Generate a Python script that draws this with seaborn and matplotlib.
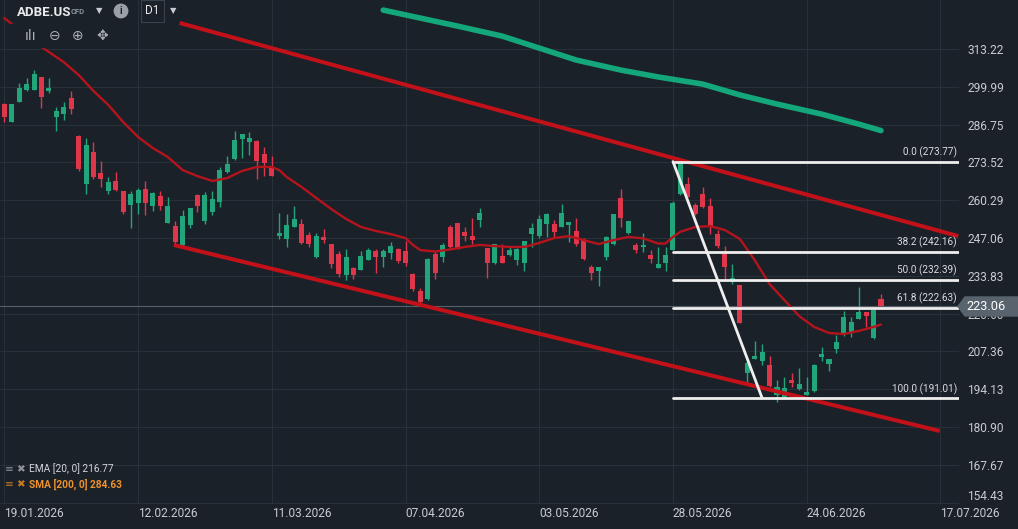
import numpy as np
import pandas as pd
import seaborn as sns
import matplotlib.pyplot as plt
from matplotlib.patches import Polygon, Rectangle

# daily candles ADBE.US (bar 0 = 19.01.2026)
opens = [293.9, 287.7, 294.7, 298.8, 298.9, 303.3, 298.4, 289.5, 290.4, 295.9,
         282.7, 265.9, 277.1, 269.9, 263.5, 267.1, 263.5, 258.6, 259.4, 264.2,
         258.3, 261.7, 252.4, 251.2, 244.6, 251.7, 262.1, 253.1, 256.0, 259.5,
         270.2, 274.6, 281.6, 280.7, 281.1, 276.3, 272.0, 247.7, 246.6, 251.0,
         251.9, 248.1, 240.5, 247.4, 244.9, 241.4, 234.1, 236.5, 235.8, 239.3,
         242.6, 240.5, 241.7, 243.2, 242.5, 234.4, 228.5, 225.6, 241.3, 240.3,
         250.8, 252.2, 249.1, 247.7, 253.3, 243.4, 238.2, 240.7, 241.2, 239.3,
         238.2, 248.4, 247.8, 251.9, 251.9, 251.0, 251.7, 249.5, 246.3, 236.9,
         235.6, 240.3, 244.9, 260.9, 248.9, 244.6, 243.8, 241.1, 236.6, 238.4,
         242.8, 262.3, 265.9, 258.6, 262.4, 258.2, 248.4, 241.4, 232.3, 230.6,
         199.9, 204.8, 204.0, 202.6, 192.1, 191.5, 197.3, 194.1, 192.1, 193.5,
         205.3, 202.8, 208.2, 213.4, 214.0, 218.6, 221.0, 211.9, 225.7]
highs = [294.3, 294.0, 301.2, 302.9, 305.8, 303.5, 302.9, 293.0, 294.6, 298.5,
         283.0, 281.9, 280.7, 274.1, 268.5, 270.1, 263.6, 263.5, 264.6, 267.0,
         263.0, 263.5, 261.3, 252.9, 256.7, 257.6, 262.3, 263.2, 263.5, 272.0,
         275.8, 284.5, 283.5, 284.2, 281.3, 278.8, 275.7, 255.7, 255.3, 258.2,
         253.6, 249.3, 248.7, 250.1, 245.1, 242.6, 243.1, 237.0, 242.5, 243.4,
         243.3, 243.3, 245.7, 243.4, 246.0, 234.9, 229.4, 239.9, 242.6, 245.4,
         251.6, 252.4, 250.8, 253.9, 257.5, 243.5, 244.9, 244.8, 244.2, 243.4,
         246.0, 252.2, 255.1, 255.9, 253.3, 258.9, 252.7, 253.9, 246.9, 237.6,
         237.0, 247.7, 255.5, 264.2, 253.0, 245.2, 248.7, 242.8, 243.8, 243.8,
         260.0, 273.6, 268.5, 259.2, 265.0, 260.9, 249.8, 244.2, 237.9, 230.7,
         205.3, 211.1, 209.9, 205.7, 197.3, 198.3, 199.7, 201.4, 198.3, 202.8,
         208.8, 204.7, 213.1, 221.6, 219.3, 229.9, 221.2, 221.8, 227.4]
lows = [287.7, 287.5, 294.5, 298.5, 298.8, 292.6, 297.7, 284.6, 288.3, 290.4,
        270.5, 262.4, 267.7, 265.0, 262.4, 263.5, 255.4, 250.6, 255.4, 255.2,
        256.6, 256.8, 252.3, 244.8, 244.3, 250.4, 256.2, 251.8, 255.1, 258.0,
        269.9, 274.4, 275.1, 276.1, 267.6, 268.8, 268.6, 246.8, 243.8, 250.9,
        245.0, 243.8, 240.2, 245.4, 236.4, 233.3, 232.3, 232.8, 235.7, 239.2,
        234.7, 237.0, 239.6, 238.4, 237.2, 228.6, 224.4, 225.3, 232.8, 238.7,
        243.1, 243.2, 246.1, 244.9, 251.0, 233.1, 238.0, 238.3, 240.7, 237.6,
        235.6, 243.8, 246.9, 247.5, 247.5, 250.8, 245.7, 244.3, 239.5, 232.3,
        230.2, 239.3, 244.6, 251.0, 248.3, 241.7, 242.2, 238.2, 236.6, 235.5,
        242.7, 262.2, 261.3, 255.2, 257.6, 248.4, 243.4, 232.3, 230.9, 217.2,
        196.7, 204.8, 202.6, 195.0, 189.5, 190.9, 194.8, 193.8, 192.0, 193.2,
        203.9, 200.6, 206.7, 212.8, 212.3, 218.6, 216.0, 211.7, 222.9]
closes = [289.5, 293.9, 299.4, 300.9, 304.4, 296.5, 299.5, 291.5, 292.9, 292.2,
          271.1, 279.6, 268.3, 267.7, 266.6, 263.8, 256.1, 262.4, 263.8, 259.4,
          262.7, 258.3, 258.1, 245.5, 254.7, 257.4, 258.3, 262.1, 260.6, 270.8,
          272.8, 281.3, 283.4, 282.1, 274.1, 273.2, 268.8, 248.9, 251.6, 253.6,
          245.2, 244.9, 247.7, 246.3, 237.9, 234.4, 240.3, 234.2, 240.7, 242.8,
          240.5, 242.5, 244.2, 239.1, 238.4, 229.1, 224.7, 239.6, 234.9, 244.6,
          243.8, 243.4, 247.8, 246.3, 255.7, 238.2, 244.8, 238.4, 242.8, 243.2,
          245.9, 250.4, 253.6, 255.4, 249.0, 255.8, 252.6, 245.1, 239.6, 234.9,
          236.8, 247.5, 255.4, 253.9, 252.9, 242.8, 244.6, 239.6, 237.9, 241.1,
          259.4, 273.2, 261.5, 255.4, 257.8, 251.0, 244.2, 237.0, 233.1, 217.4,
          203.2, 205.7, 207.1, 195.2, 194.8, 194.4, 196.2, 195.8, 193.0, 202.6,
          206.4, 204.6, 210.5, 219.3, 217.5, 221.0, 219.8, 221.8, 223.06]

# EMA(20) and SMA(200) read at some bars
ema_bar = [0, 5, 8, 10, 12, 14, 16, 18, 20, 22, 24, 26, 28, 30, 32, 34, 36, 37, 38, 40,
           42, 44, 46, 48, 50, 52, 54, 55, 56, 58, 60, 62, 64, 66, 68, 70, 72, 74, 76, 78,
           80, 82, 84, 86, 88, 89, 90, 91, 93, 95, 97, 99, 101, 103, 105, 107, 109, 111,
           113, 115, 117, 118]
ema_val = [324.0, 313.9, 308.6, 304.1, 298.5, 293.6, 287.6, 282.4, 278.5, 275.4,
           270.8, 268.7, 267.0, 268.0, 270.5, 271.9, 271.9, 270.8, 268.4, 264.9,
           261.0, 257.2, 253.7, 250.9, 249.5, 248.4, 247.0, 244.6, 242.8, 242.3,
           243.0, 243.9, 244.6, 244.2, 243.9, 243.9, 245.3, 247.0, 247.7, 246.3,
           244.9, 246.3, 247.4, 246.9, 245.1, 245.1, 247.4, 249.2, 250.9, 251.2,
           249.8, 246.7, 239.3, 230.9, 225.3, 219.7, 215.9, 213.8, 213.4, 214.5,
           215.9, 216.77]
sma_bar = [51, 56, 61, 67, 72, 77, 83, 88, 94, 99, 104, 110, 115, 118]
sma_val = [326.8, 324.0, 321.2, 317.7, 313.5, 309.3, 305.8, 303.4, 300.9, 297.1,
           293.9, 290.4, 286.9, 284.63]

date_labels = ["19.01.2026", "12.02.2026", "11.03.2026", "07.04.2026",
               "03.05.2026", "28.05.2026", "24.06.2026", "17.07.2026"]
bars_per_label = 18
price_ticks = [313.22, 299.99, 286.75, 273.52, 260.29, 247.06, 233.83, 220.60,
               207.36, 194.13, 180.90, 167.67, 154.43]

# drawings
upper_bars = [23.6, 128.4]
upper_prices = [322.3, 247.7]
lower_bars = [22.8, 125.9]
lower_prices = [244.6, 179.5]
fib_bars = [90, 102]
fib_pcts = ["0.0", "38.2", "50.0", "61.8", "100.0"]
fib_prices = [273.77, 242.16, 232.39, 222.63, 191.01]
last_price = 223.06
ema_last = 216.77
sma_last = 284.63

BG = "#1b2129"
GRID = "#283039"
TXT = "#c8ccd1"
UP = "#22a57a"
DOWN = "#e0364b"

sns.set_theme(style="dark", rc={"axes.facecolor": BG, "figure.facecolor": BG})
plt.rcParams["font.family"] = ["Roboto", "DejaVu Sans"]

fig = plt.figure(figsize=(10.18, 5.29), dpi=100)
ax = fig.add_axes([0, 25 / 529, 959 / 1018, 504 / 529])
ax.set_facecolor(BG)

x_min, x_max = -0.58, 128.5
y_min, y_max = 153.93, 330.33

df = pd.DataFrame({"o": opens, "h": highs, "l": lows, "c": closes})
df["bar"] = np.arange(len(df))
df["up"] = df["c"] >= df["o"]
cols = np.where(df["up"], UP, DOWN)

# grid
for i in range(len(date_labels)):
    ax.axvline(i * bars_per_label, color=GRID, lw=0.8, zorder=0)
for p in price_ticks:
    ax.axhline(p, color=GRID, lw=0.8, zorder=0)
ax.axhline(last_price, color="#56606b", lw=0.8, zorder=1)

# candles
ax.vlines(df["bar"], df["l"], df["h"], colors=cols, lw=1.0, zorder=2)
body_lo = np.minimum(df["o"], df["c"])
body_h = np.maximum((df["c"] - df["o"]).abs(), 0.35)
ax.bar(df["bar"], body_h, bottom=body_lo, width=0.68, color=cols,
       edgecolor=cols, linewidth=0, zorder=3)

# moving averages
sns.lineplot(x=sma_bar, y=sma_val, ax=ax, color="#14a77c", lw=4.0, zorder=4)
sns.lineplot(x=ema_bar, y=ema_val, ax=ax, color="#b5141c", lw=1.7, zorder=4)

# trend channel
ax.plot(upper_bars, upper_prices, color="#c3111a", lw=2.9, solid_capstyle="butt", zorder=5)
ax.plot(lower_bars, lower_prices, color="#c3111a", lw=2.9, solid_capstyle="butt", zorder=5)

# fibonacci retracement
ax.plot(fib_bars, [fib_prices[0], fib_prices[-1]], color="#eeeeee", lw=2.0, zorder=6)
for pct, p in zip(fib_pcts, fib_prices):
    ax.plot([fib_bars[0], x_max], [p, p], color="#eeeeee", lw=2.0, zorder=6)
    ax.text(x_max - 0.3, p + 1.2, f"{pct} ({p:.2f})", color="#d9dcdf",
            fontsize=7.2, ha="right", va="bottom", zorder=7)

ax.set_xlim(x_min, x_max)
ax.set_ylim(y_min, y_max)
for s in ax.spines.values():
    s.set_visible(False)
ax.set_xlabel("")
ax.set_ylabel("")

ax.set_xticks([i * bars_per_label for i in range(len(date_labels))])
ax.set_xticklabels(date_labels, ha="left")
ax.set_yticks(price_ticks)
ax.set_yticklabels([f"{p:.2f}" for p in price_ticks])
ax.yaxis.tick_right()
ax.tick_params(axis="x", colors=TXT, labelsize=8.6, length=0, pad=2)
ax.tick_params(axis="y", colors=TXT, labelsize=8.6, length=0, pad=6)
for lab in ax.get_yticklabels():
    lab.set_horizontalalignment("left")
ax.get_yticklabels()[-1].set_verticalalignment("bottom")

# toolbar backdrop (hides the line under the icons, as on the platform)
fig.patches.append(Rectangle((10 / 1018, 1 - 47 / 529), 105 / 1018, 23 / 529,
                             transform=fig.transFigure, color=BG, zorder=9))

# last price marker on the axis
y_fig = (25 + (last_price - y_min) / (y_max - y_min) * 504) / 529
h = 19 / 529
x0 = 958 / 1018
box = Polygon([[x0, y_fig], [x0 + 7 / 1018, y_fig + h / 2], [1.0, y_fig + h / 2],
               [1.0, y_fig - h / 2], [x0 + 7 / 1018, y_fig - h / 2]],
              closed=True, transform=fig.transFigure, color="#58636d", zorder=10)
fig.patches.append(box)
fig.text(966 / 1018, y_fig, f"{last_price:.2f}", color="white", fontsize=9.2,
         ha="left", va="center", zorder=11)

# header
fig.text(17 / 1018, 1 - 12 / 529, "ADBE.US", color="#e8eaec", fontsize=9.5,
         fontweight="bold", va="center", zorder=11)
fig.text(71 / 1018, 1 - 12 / 529, "CFD", color="#8c939b", fontsize=5.5,
         fontweight="bold", va="center", zorder=11)
fig.text(96 / 1018, 1 - 11 / 529, "▼", color="#c8ccd1", fontsize=6, va="center",
         family=["DejaVu Sans"], zorder=11)
fig.text(121 / 1018, 1 - 11 / 529, "i", color=BG, fontsize=7, fontweight="bold",
         ha="center", va="center", zorder=11,
         bbox=dict(boxstyle="circle,pad=0.25", fc="#9aa0a6", ec="none"))
fig.text(145 / 1018, 1 - 11 / 529, "D1", color="#e8eaec", fontsize=8.5, va="center",
         zorder=11, bbox=dict(boxstyle="square,pad=0.35", fc=BG, ec="#3a424b", lw=0.8))
fig.text(170 / 1018, 1 - 11 / 529, "▼", color="#c8ccd1", fontsize=6, va="center",
         family=["DejaVu Sans"], zorder=11)
for xi, glyph in [(31, "ılı"), (55, "⊖"), (78, "⊕"), (102, "✥")]:
    fig.text(xi / 1018, 1 - 36 / 529, glyph, color="#aab0b6", fontsize=10,
             ha="center", va="center", family=["DejaVu Sans"], zorder=11)

# indicator legend
fig.text(5 / 1018, 1 - 469 / 529, "≡ ✖", color="#8d949b", fontsize=7.5, va="center",
         family=["DejaVu Sans"])
fig.text(29 / 1018, 1 - 469 / 529, f"EMA [20, 0] {ema_last:.2f}", color="#d3d6d9",
         fontsize=7.3, va="center")
fig.text(5 / 1018, 1 - 484 / 529, "≡ ✖", color="#c57a22", fontsize=7.5, va="center",
         family=["DejaVu Sans"])
fig.text(29 / 1018, 1 - 484 / 529, f"SMA [200, 0] {sma_last:.2f}", color="#ee922c",
         fontsize=7.3, va="center", fontweight="bold")

fig.savefig("out.png", dpi=100, facecolor=BG)
